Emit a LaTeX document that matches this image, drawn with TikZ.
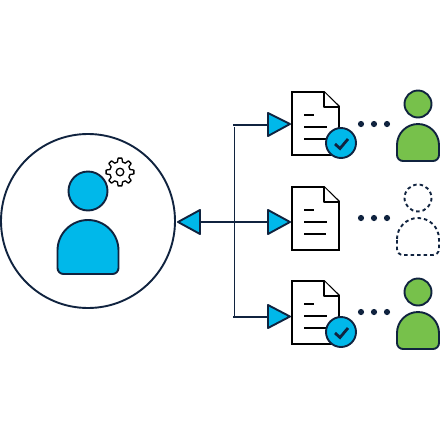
\documentclass[tikz,border=0pt]{standalone}
\definecolor{navy}{HTML}{10233F}
\definecolor{cyanfill}{HTML}{00B8EA}
\definecolor{greenfill}{HTML}{77C14B}
\tikzset{
  x=1pt,y=-1pt,
  outline/.style={draw=navy,line width=1.9pt,line join=round},
  wire/.style={draw=navy,line width=1.8pt},
  tipfill/.style={outline,fill=cyanfill},
  docline/.style={draw=black,line width=1.7pt},
  dotmark/.style={fill=navy,draw=none},
  pics/person/.style n args={6}{code={
    % #1 fill, #2 extra style, #3 head radius, #4 half body width, #5 body height, #6 gap
    \draw[outline,fill=#1,#2] (0,0) circle[radius=#3];
    \pgfmathsetmacro{\bw}{#4}
    \pgfmathsetmacro{\bk}{0.5523*#4}
    \pgfmathsetmacro{\bt}{#3+#6}
    \pgfmathsetmacro{\bm}{#3+#6+#4}
    \pgfmathsetmacro{\bc}{#3+#6+#4-0.5523*#4}
    \pgfmathsetmacro{\bb}{#3+#6+#5}
    \pgfmathsetmacro{\ba}{#3+#6+#5-6}
    \pgfmathsetmacro{\bd}{#3+#6+#5-2.7}
    \pgfmathsetmacro{\be}{#4-6}
    \pgfmathsetmacro{\bf}{#4-2.7}
    \draw[outline,fill=#1,#2] (-\bw,\bm) .. controls (-\bw,\bc) and (-\bk,\bt) .. (0,\bt)
       .. controls (\bk,\bt) and (\bw,\bc) .. (\bw,\bm)
       -- (\bw,\ba) .. controls (\bw,\bd) and (\bf,\bb) .. (\be,\bb)
       -- (-\be,\bb) .. controls (-\bf,\bb) and (-\bw,\bd) .. (-\bw,\ba) -- cycle;
  }},
  pics/sheet/.style={code={
    \draw[draw=black,line width=1.9pt,line join=miter,fill=white] (0,0) -- (32,0) -- (47,14.5) -- (47,63) -- (0,63) -- cycle;
    \draw[draw=black,line width=1.9pt,line join=round,fill=white] (32,0) -- (32,15) -- (47,15);
    \draw[docline] (12,23) -- (22,23);
    \draw[docline] (12,35) -- (35,35);
    \draw[docline] (12,47) -- (34,47);
  }},
  pics/badge/.style={code={
    \draw[outline,fill=cyanfill] (0,0) circle[radius=15];
    \draw[draw=navy,line width=2.8pt] (-6,1) -- (-1,5.5) -- (7,-4);
  }},
  pics/threedots/.style={code={
    \fill[dotmark] (0,0) circle[radius=3.1];
    \fill[dotmark] (13,0) circle[radius=3.1];
    \fill[dotmark] (26,0) circle[radius=3.1];
  }}
}
\begin{document}
\begin{tikzpicture}
\useasboundingbox (0,0) rectangle (440,440);
% hub
\draw[outline] (88,221) circle[radius=87];
\pic at (88,191) {person={cyanfill}{}{19.5}{30.5}{54}{9.5}};
% gear
\begin{scope}[shift={(120,172)}]
\draw[draw=black,line width=1.3pt,line join=round,fill=white]
  (-14:10.3)
  \foreach \a in {0,45,...,315}{
    -- ({\a-14}:10.3) -- ({\a-8}:14) -- ({\a+8}:14) -- ({\a+14}:10.3)
  } -- cycle;
\draw[draw=black,line width=1.3pt] (0,0) circle[radius=3.8];
\end{scope}
% connectors
\coordinate (hubtip) at (178,222);
\coordinate (hubbase) at (200,222);
\coordinate (topstart) at (233,125);
\coordinate (topend) at (268,125);
\coordinate (midend) at (268,222);
\coordinate (botstart) at (233,317);
\coordinate (botend) at (268,317);
\coordinate (vtop) at (234.5,127);
\coordinate (vbot) at (234.5,317);
\draw[wire] (vtop) -- (vbot);
\draw[wire] (topstart) -- (topend);
\draw[wire] (hubbase) -- (midend);
\draw[wire] (botstart) -- (botend);
% arrow triangles
\draw[tipfill] (hubtip) -- (200,210) -- (200,234) -- cycle;
\draw[tipfill] (290,124) -- (268,113) -- (268,136) -- cycle;
\draw[tipfill] (290,222) -- (268,210) -- (268,234) -- cycle;
\draw[tipfill] (290,316.5) -- (268,305) -- (268,328) -- cycle;
% row 1
\pic at (292,92) {sheet};
\pic at (341,143) {badge};
\pic at (361,124) {threedots};
\pic at (418,104) {person={greenfill}{}{13.5}{21}{37}{6.5}};
% row 2
\pic at (292,187) {sheet};
\pic at (361,218) {threedots};
\pic at (418,198) {person={white}{dashed,dash pattern=on 3.5pt off 3pt}{13.5}{21}{37}{6.5}};
% row 3
\pic at (292,281) {sheet};
\pic at (341,332) {badge};
\pic at (361,312) {threedots};
\pic at (418,292) {person={greenfill}{}{13.5}{21}{37}{6.5}};
\end{tikzpicture}
\end{document}
